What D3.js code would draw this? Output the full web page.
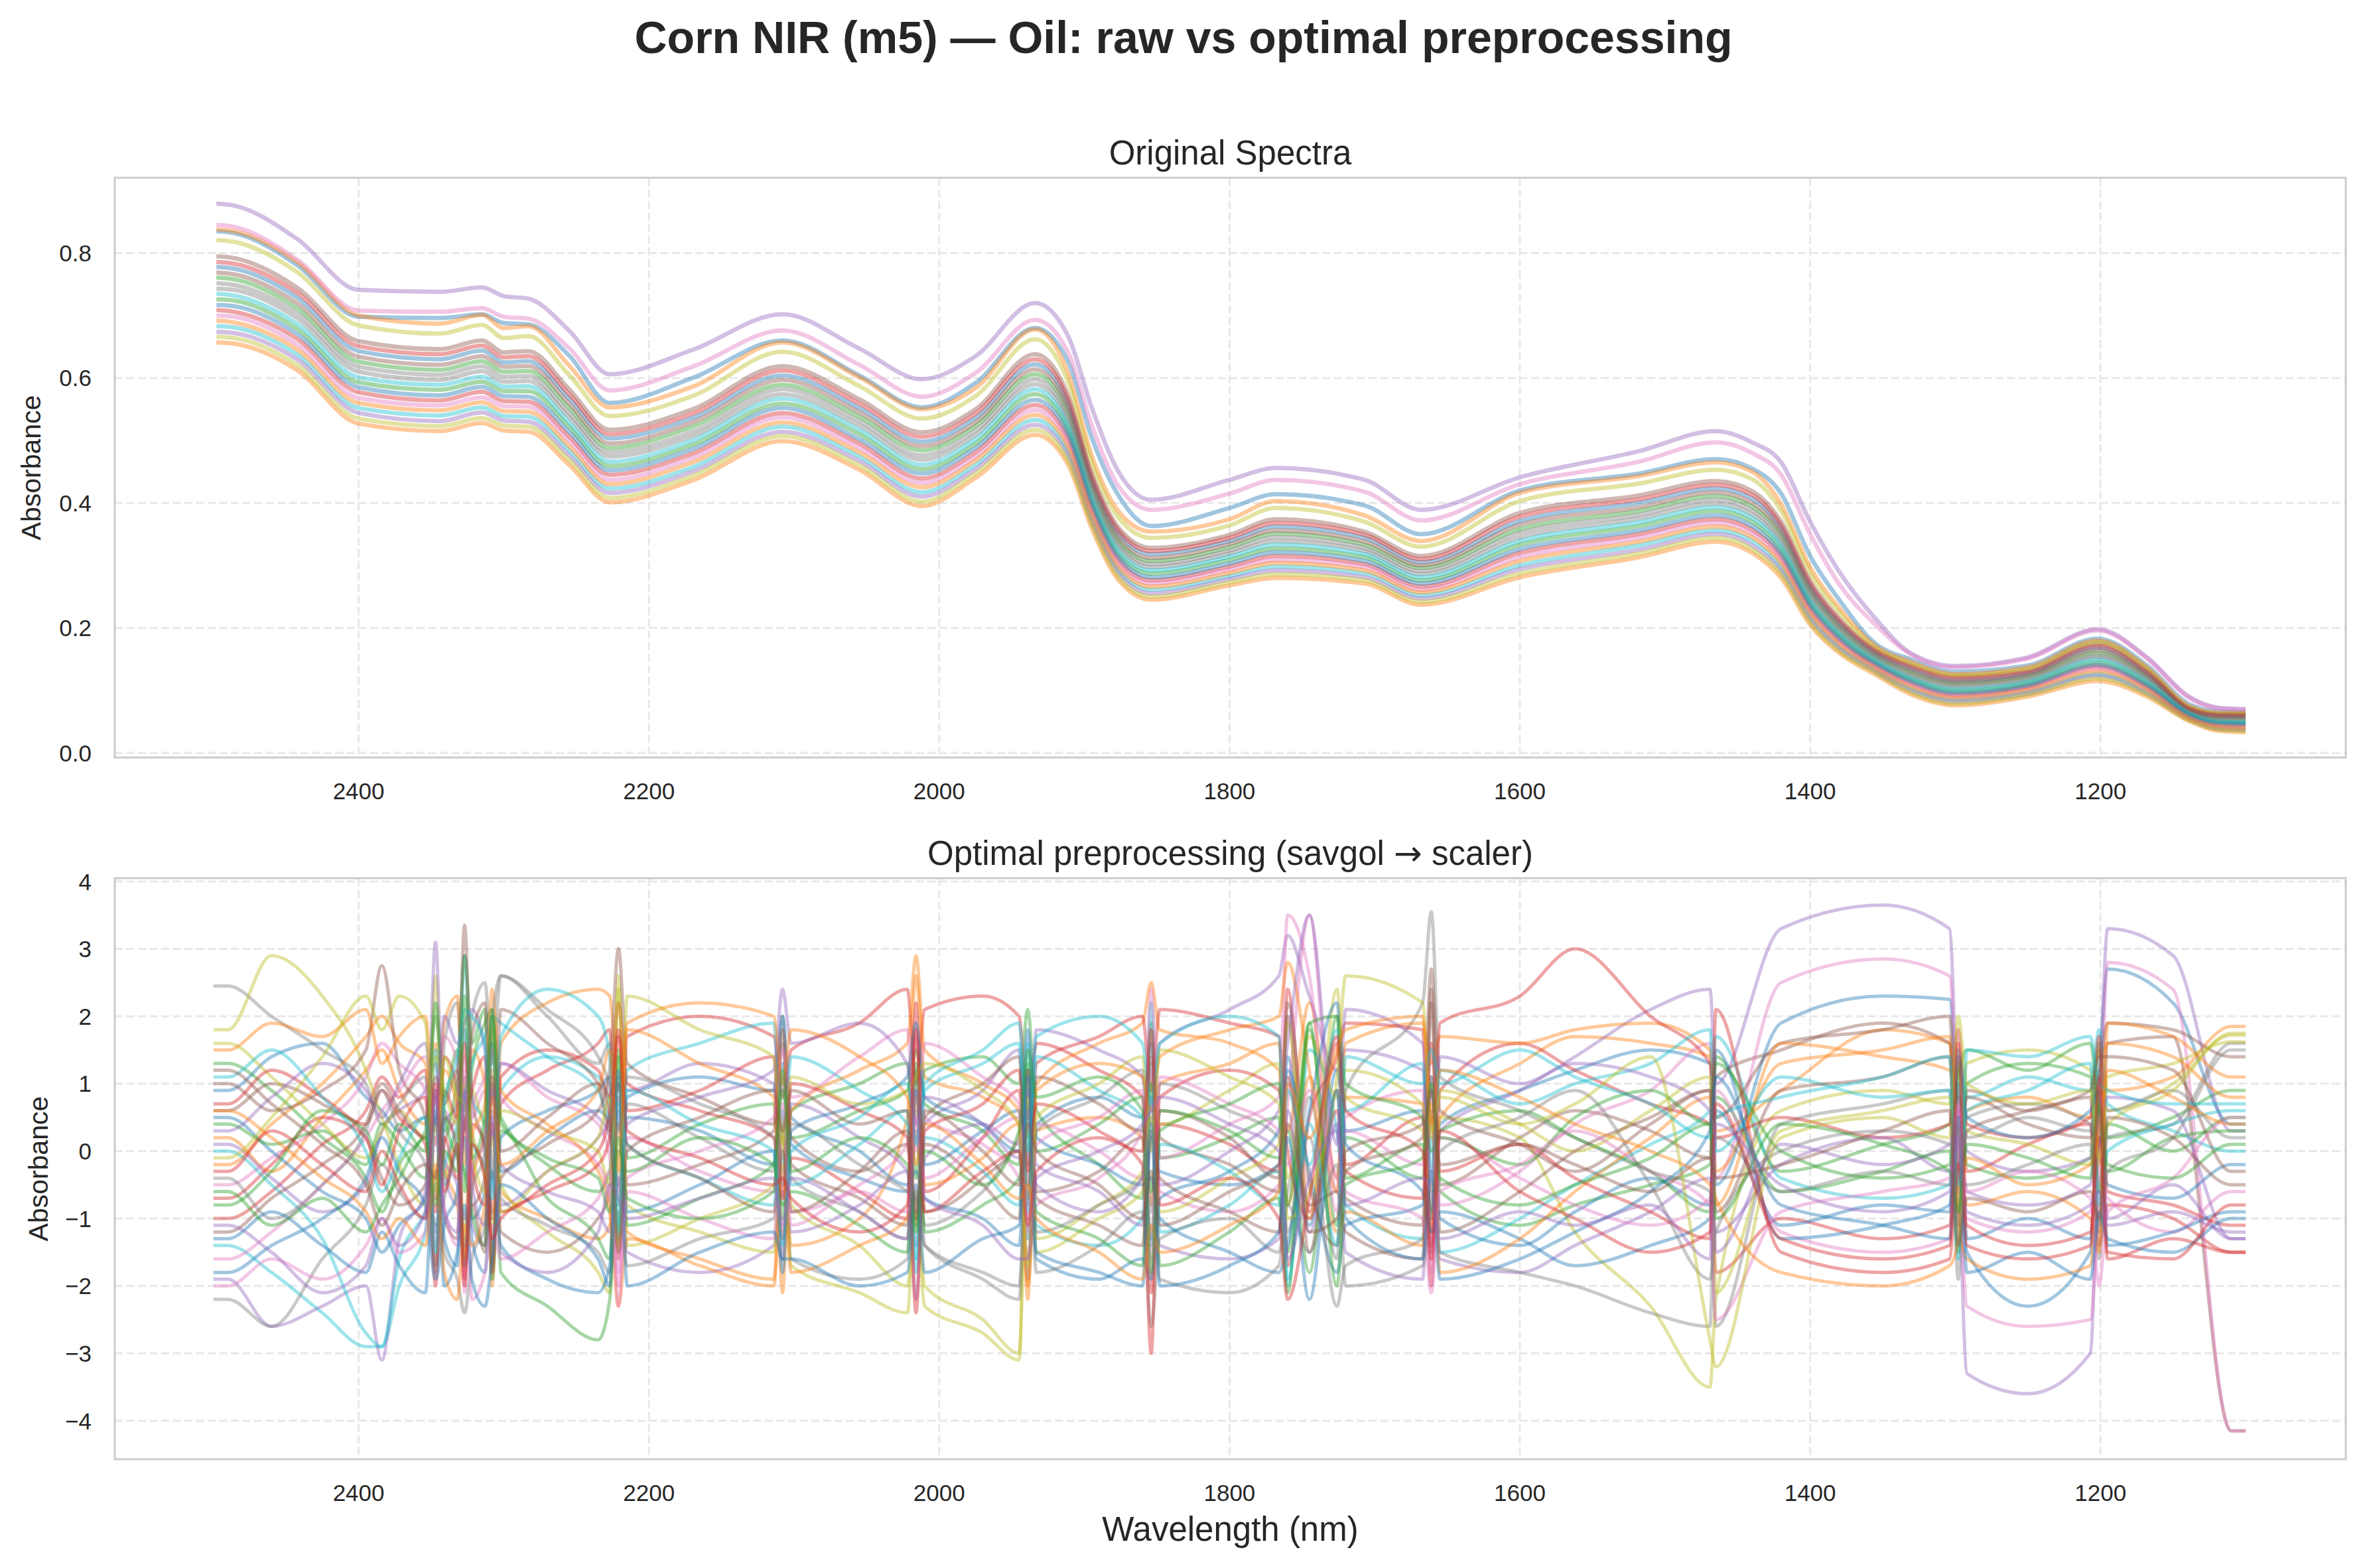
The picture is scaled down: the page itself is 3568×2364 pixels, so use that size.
<!DOCTYPE html>
<html>
<head>
<meta charset="utf-8">
<script src="https://cdn.jsdelivr.net/npm/d3@7"></script>
<style>
  body { margin: 0; background: #fff; }
  svg text { font-family: "Liberation Sans", Arial, sans-serif; fill: #262626; }
</style>
</head>
<body>
<div id="fig"></div>
<script>
// ---- raw spectra: one row per wavelength, one column per sample (absorbance)
var rawWavelengths = [2498, 2486, 2442, 2400, 2344, 2315, 2300, 2283, 2255, 2227, 2170, 2108, 2055, 2012, 1975, 1934, 1911, 1895, 1876, 1854,
  1800, 1768, 1707, 1668, 1600, 1518, 1465, 1440, 1420, 1400, 1380, 1355, 1331, 1300, 1250, 1202, 1168, 1139, 1118, 1100];

var rawByWavelength = [
  [.835,.838,.761,.709,.879,.795,.845,.743,.821,.683,.778,.657,.726,.786,.674,.769,.700,.752,.666,.735,.717,.692],
  [.832,.835,.758,.706,.876,.792,.842,.741,.818,.681,.775,.655,.724,.783,.672,.766,.698,.749,.664,.732,.715,.689],
  [.780,.785,.711,.662,.822,.744,.789,.695,.769,.637,.728,.612,.678,.736,.629,.719,.653,.703,.620,.686,.670,.645],
  [.698,.700,.626,.577,.741,.659,.708,.610,.684,.552,.643,.527,.593,.651,.544,.634,.568,.618,.535,.601,.585,.560],
  [.696,.687,.613,.564,.738,.646,.706,.597,.671,.540,.630,.515,.581,.638,.531,.621,.556,.605,.523,.589,.572,.548],
  [.702,.701,.627,.578,.745,.660,.712,.611,.685,.553,.644,.528,.594,.652,.545,.635,.569,.619,.536,.602,.586,.561],
  [.688,.680,.610,.563,.731,.641,.698,.594,.664,.539,.625,.516,.579,.633,.532,.618,.555,.602,.524,.586,.571,.547],
  [.686,.683,.611,.562,.727,.643,.695,.595,.667,.538,.627,.514,.579,.635,.530,.619,.554,.603,.522,.587,.570,.546],
  [.636,.620,.552,.506,.676,.582,.648,.537,.605,.484,.567,.461,.522,.574,.476,.559,.499,.544,.469,.529,.514,.491],
  [.560,.553,.488,.445,.606,.517,.580,.474,.539,.423,.503,.401,.459,.510,.416,.495,.437,.481,.408,.466,.452,.430],
  [.600,.586,.522,.479,.645,.550,.618,.507,.571,.457,.536,.436,.493,.543,.450,.529,.472,.514,.443,.500,.486,.465],
  [.660,.657,.589,.544,.702,.619,.676,.574,.642,.522,.604,.499,.559,.612,.514,.597,.537,.582,.507,.567,.552,.529],
  [.604,.601,.538,.495,.647,.566,.621,.524,.587,.474,.552,.453,.510,.559,.467,.545,.488,.531,.460,.517,.502,.481],
  [.553,.550,.484,.439,.598,.513,.570,.469,.535,.417,.498,.395,.454,.506,.410,.491,.432,.476,.402,.461,.447,.425],
  [.592,.584,.523,.481,.635,.550,.608,.509,.571,.461,.536,.440,.495,.543,.454,.529,.474,.516,.447,.502,.488,.468],
  [.680,.678,.606,.557,.720,.638,.693,.590,.662,.533,.622,.509,.574,.630,.525,.614,.549,.598,.517,.582,.565,.541],
  [.625,.606,.543,.502,.666,.571,.640,.529,.592,.481,.557,.460,.516,.564,.474,.550,.495,.536,.467,.522,.509,.488],
  [.505,.476,.426,.393,.553,.448,.525,.415,.465,.377,.437,.360,.404,.443,.371,.432,.388,.421,.366,.410,.399,.382],
  [.410,.385,.338,.307,.448,.359,.425,.328,.375,.291,.349,.275,.317,.354,.286,.343,.301,.333,.280,.322,.312,.296],
  [.363,.354,.307,.276,.405,.328,.389,.297,.344,.261,.318,.245,.287,.323,.255,.312,.271,.302,.250,.292,.281,.266],
  [.392,.374,.329,.298,.437,.349,.415,.319,.364,.283,.339,.268,.309,.344,.278,.334,.293,.324,.273,.314,.303,.288],
  [.414,.403,.351,.315,.456,.374,.437,.339,.392,.298,.362,.280,.327,.368,.292,.356,.309,.345,.286,.333,.321,.304],
  [.396,.380,.333,.302,.437,.354,.418,.323,.370,.287,.344,.271,.313,.349,.281,.338,.297,.328,.276,.318,.307,.292],
  [.350,.339,.296,.266,.389,.315,.372,.286,.330,.252,.305,.237,.276,.310,.247,.300,.261,.291,.242,.281,.271,.257],
  [.420,.416,.358,.320,.441,.384,.430,.345,.403,.300,.371,.281,.333,.378,.294,.365,.313,.352,.287,.339,.326,.307],
  [.447,.443,.387,.350,.483,.412,.466,.375,.431,.332,.400,.313,.363,.406,.325,.393,.344,.381,.319,.369,.356,.338],
  [.470,.465,.411,.374,.515,.435,.497,.399,.453,.356,.423,.338,.387,.429,.350,.417,.368,.405,.344,.393,.380,.362],
  [.455,.450,.394,.357,.497,.419,.480,.382,.438,.339,.407,.320,.370,.413,.332,.400,.351,.388,.326,.376,.363,.345],
  [.415,.398,.348,.314,.465,.370,.445,.336,.387,.297,.359,.280,.325,.364,.291,.353,.308,.342,.286,.331,.319,.303],
  [.315,.297,.258,.231,.370,.275,.350,.249,.288,.218,.266,.205,.240,.271,.214,.262,.227,.253,.209,.244,.236,.223],
  [.245,.232,.201,.181,.290,.215,.270,.194,.225,.170,.208,.160,.188,.212,.167,.205,.177,.198,.163,.191,.184,.174],
  [.175,.171,.155,.140,.215,.165,.205,.150,.168,.133,.160,.125,.145,.163,.130,.158,.138,.153,.128,.148,.143,.135],
  [.150,.146,.129,.112,.160,.141,.158,.123,.143,.103,.135,.094,.118,.138,.100,.132,.109,.126,.097,.120,.115,.106],
  [.130,.126,.111,.093,.139,.122,.137,.105,.124,.085,.116,.076,.099,.119,.082,.113,.090,.108,.079,.102,.096,.088],
  [.140,.137,.122,.106,.153,.132,.151,.116,.134,.098,.127,.090,.111,.129,.095,.124,.103,.119,.093,.114,.108,.101],
  [.183,.180,.160,.138,.198,.175,.196,.153,.177,.126,.168,.115,.145,.171,.123,.164,.134,.156,.119,.149,.141,.130],
  [.140,.137,.122,.106,.153,.132,.151,.116,.134,.098,.127,.090,.111,.129,.095,.124,.103,.119,.093,.114,.108,.101],
  [.078,.075,.067,.059,.090,.072,.088,.064,.073,.055,.069,.051,.062,.071,.054,.068,.058,.065,.052,.063,.060,.056],
  [.066,.064,.055,.045,.072,.062,.071,.052,.063,.040,.059,.035,.049,.060,.038,.057,.043,.054,.037,.050,.047,.042],
  [.065,.064,.055,.044,.070,.062,.069,.051,.063,.038,.058,.033,.048,.060,.037,.057,.042,.053,.035,.049,.046,.040]
];

// ---- preprocessed (savgol -> scaler): one row per sample, one value per wavelength
var snvWavelengths = [2500, 2490, 2460, 2425, 2395, 2384, 2372, 2354, 2347, 2341, 2332, 2327, 2322, 2313, 2308, 2302, 2270, 2235, 2227, 2221,
  2215, 2165, 2114, 2108, 2102, 2055, 2022, 2016, 2010, 1970, 1945, 1939, 1933, 1890, 1860, 1854, 1848, 1800, 1766, 1760,
  1745, 1726, 1720, 1667, 1661, 1655, 1600, 1562, 1510, 1469, 1465, 1420, 1350, 1304, 1298, 1292, 1250, 1207, 1201, 1195,
  1150, 1110, 1100];

var snvBySample = [
  [0.9,0.9,1.4,1.6,0.8,0.6,0.3,0.5,-1.2,0.4,0.7,1.8,0.2,-0.3,-1.4,0.2,0.6,0.9,1.1,-0.8,0.5,0.3,-0.2,1.3,0.1,-0.4,-0.6,0.9,-0.2,0.3,0.6,-1.3,0.4,0.8,0.5,1.6,-0.3,-0.5,-0.2,1.4,-1.1,1.2,0.3,0.6,-1.0,0.4,0.9,1.2,1.5,1.3,-0.5,1.9,2.3,2.25,0.2,-1.5,-2.3,-1.5,1.0,2.7,2.2,0.4,0.4],
  [0.2,0.2,-0.3,0.5,1.2,1.5,0.9,0.4,1.6,-0.2,-0.8,-1.5,-0.5,0.3,1.2,-0.6,-1.0,-1.3,-1.1,0.4,-1.2,-1.6,-1.9,0.2,-1.4,-1.0,0.5,2.6,1.1,0.8,0.4,-2.0,0.3,0.5,0.2,-0.8,1.0,1.3,1.6,0.3,2.2,-0.4,0.8,0.7,-1.2,0.5,1.3,1.7,1.6,1.4,0.3,0.9,1.8,1.6,-0.9,0.6,0.8,0.5,1.5,0.9,1.1,1.85,1.85],
  [1.3,1.3,0.9,0.2,-0.4,-0.9,-0.2,0.3,2.0,0.8,1.5,-0.6,1.2,1.9,2.1,0.5,-0.2,-0.6,-0.3,1.5,-0.1,0.4,0.7,-1.0,0.6,1.0,1.3,-0.4,1.2,1.4,1.0,2.1,0.6,-0.2,-0.7,1.9,-0.1,0.2,0.5,-1.5,1.8,-1.1,0.2,-0.4,1.1,-0.6,-1.1,-0.8,-0.5,-0.2,1.4,-0.3,0.1,0.4,1.2,-0.2,-0.4,-0.1,1.6,0.2,0.5,0.9,0.9],
  [-1.0,-1.0,-0.6,0.1,0.6,1.1,0.8,1.2,-0.7,1.4,0.9,-1.9,0.4,0.1,-0.9,0.7,1.2,1.6,1.8,-1.6,1.7,2.0,1.7,0.8,1.5,1.9,2.4,1.0,2.1,2.3,2.0,0.5,1.6,1.2,0.8,-2.1,0.4,0.1,-0.3,2.4,-0.9,1.6,-0.2,0.5,-2.0,0.9,1.6,1.2,0.7,0.4,-1.8,-1.0,-1.3,-1.1,0.8,-0.3,0.1,0.4,-1.4,-0.8,-1.0,-1.5,-1.5],
  [0.1,0.1,-0.4,-0.9,-0.5,0.3,0.6,0.9,1.3,-0.3,-0.8,0.5,-1.1,-1.4,0.6,-0.8,-0.3,0.2,0.5,1.1,0.9,1.3,1.0,-1.6,0.7,0.2,-0.3,-1.4,0.4,0.9,1.5,-0.2,1.8,1.5,1.1,0.4,1.6,2.1,2.6,3.2,2.3,1.2,1.5,1.2,-1.5,0.3,0.9,1.4,2.1,2.4,1.0,3.3,3.65,3.3,0.0,-3.3,-3.6,-3.0,0.5,3.3,2.9,0.3,0.3],
  [0.6,0.6,1.0,0.7,0.2,-0.4,-0.8,-0.5,0.9,-1.0,-1.3,1.1,-0.8,-0.4,1.0,-1.2,-1.5,-1.0,-0.6,0.8,-0.5,-0.2,0.3,1.6,-0.2,-0.7,-1.1,0.3,-0.9,-0.4,0.2,1.2,-0.6,-0.3,0.2,-1.3,0.6,0.2,-0.4,2.0,-1.5,0.9,-0.7,-1.1,2.4,-0.5,0.2,0.6,0.3,-0.1,1.1,1.5,1.9,1.6,-0.6,0.9,0.6,0.8,-1.2,1.6,1.7,-4.15,-4.15],
  [-0.5,-0.5,-0.1,0.4,1.1,1.6,1.3,0.9,-1.4,0.6,0.2,1.4,0.5,0.9,-0.6,1.3,0.8,0.4,-0.1,-1.8,0.2,-0.3,-0.6,1.1,-0.9,-0.5,0.1,1.7,0.5,0.1,-0.4,-1.6,-0.8,-0.4,0.3,1.2,-0.6,-0.9,-0.5,0.7,3.5,-0.6,0.3,-0.2,0.9,-0.8,-0.3,0.4,0.9,1.6,-0.4,2.5,2.85,2.6,0.1,-2.3,-2.6,-2.5,-0.3,2.8,2.4,-4.15,-4.15],
  [2.45,2.45,2.0,1.5,1.0,0.4,0.7,1.1,-1.8,1.6,2.2,0.6,2.0,2.5,1.3,2.6,2.1,1.4,0.9,-0.5,0.7,0.2,-0.3,2.0,-0.4,-0.9,-1.3,0.6,-1.1,-0.6,0.0,-1.9,0.3,0.8,1.2,-0.9,1.0,0.6,0.2,-1.2,0.8,-1.6,0.9,2.2,3.55,1.1,0.6,0.2,-0.3,-0.6,-2.6,0.4,0.7,0.9,-1.9,0.5,0.7,0.4,-1.6,0.2,0.4,1.6,1.6],
  [1.8,1.8,2.9,2.3,1.2,0.5,-0.2,-0.8,2.6,-0.4,0.3,-1.3,0.9,0.4,1.8,-0.5,-1.2,-1.8,-2.1,2.6,-1.4,-1.0,-0.5,0.3,-0.8,-1.4,-2.0,-0.9,-2.3,-2.7,-3.1,1.0,-1.5,-1.0,-0.6,0.5,-0.9,-0.4,0.1,1.9,-1.0,2.4,0.8,0.3,-0.6,0.5,0.2,-1.2,-2.3,-3.5,-2.2,0.6,0.9,0.7,1.3,0.3,0.1,-0.2,0.9,0.6,1.0,1.72,1.72],
  [-1.4,-1.4,-1.8,-2.4,-2.9,-2.9,-2.0,-1.2,1.5,-0.5,0.2,2.9,0.8,0.4,-1.7,0.9,1.4,1.1,0.7,-1.1,1.2,1.6,1.9,-0.3,1.4,0.9,0.4,-1.8,0.2,-0.3,-0.8,1.6,-1.1,-1.4,-1.0,2.2,-1.2,-0.8,-0.3,-2.0,1.5,0.3,-0.8,-1.3,0.2,-1.5,-1.0,-0.5,0.1,0.6,1.7,-0.4,-0.7,-0.5,1.5,0.8,1.1,0.9,1.8,0.7,0.3,0.0,0.0],
  [0.5,0.5,0.0,-0.6,-1.0,-1.5,-1.1,-0.7,0.8,-1.3,-1.7,0.9,-1.0,-0.6,1.6,-0.3,0.2,0.6,0.4,-1.3,0.8,1.1,0.9,2.0,0.5,0.0,-0.5,-0.3,-0.7,-1.0,-1.4,0.7,-1.6,-1.9,-1.6,-1.9,-0.7,-0.3,0.3,1.2,-0.3,-1.8,-1.1,-0.8,0.6,-1.0,-1.4,-0.9,-0.4,-0.8,0.6,-1.1,-0.8,-0.9,1.0,-1.3,-1.0,-1.3,0.2,-0.5,-0.7,-0.2,-0.2],
  [-0.2,-0.2,0.4,1.0,1.7,2.0,1.6,1.3,0.1,1.9,2.3,-0.2,1.5,1.0,-2.0,1.6,2.2,2.4,2.3,0.9,1.8,1.3,0.8,-2.1,0.6,1.2,1.6,2.9,1.5,1.0,0.6,-0.7,1.0,1.6,1.9,2.5,1.8,1.6,1.2,-0.8,1.1,-0.6,1.6,1.9,1.3,1.7,1.6,1.8,1.9,1.5,-0.3,1.3,1.5,1.7,-1.0,-1.6,-1.9,-1.7,0.8,1.6,1.4,0.8,0.8],
  [0.4,0.4,0.1,0.3,-0.2,0.4,0.1,-0.4,0.5,0.3,1.1,2.9,1.6,2.1,-1.9,0.3,-0.7,-1.3,-1.6,1.4,-1.1,-0.7,-0.2,0.9,0.2,0.6,0.9,1.5,0.7,0.3,-0.2,1.3,0.0,0.4,0.8,-0.6,0.6,0.3,-0.1,0.3,-1.8,2.0,-0.4,0.1,-0.9,0.3,0.6,0.2,-0.3,-0.9,0.8,-0.6,-0.3,0.0,-1.5,1.0,1.3,1.1,-0.6,0.4,0.0,0.5,0.5],
  [-0.7,-0.7,-0.2,0.5,0.2,-0.5,0.3,0.8,-2.0,0.9,0.5,1.6,-0.2,-0.8,0.4,-0.9,-0.5,0.0,0.6,2.2,1.0,0.6,0.2,-1.3,-0.1,-0.6,-1.0,2.2,-0.6,0.2,0.9,-0.8,1.3,1.7,2.0,0.9,2.1,1.9,1.7,-1.7,0.5,1.4,1.9,1.8,-1.4,1.9,2.3,3.0,2.0,1.3,0.2,0.5,0.2,0.4,1.8,0.4,0.2,0.5,1.7,-0.6,-0.8,-1.1,-1.1],
  [-1.9,-1.9,-2.6,-2.3,-2.0,-3.1,-1.3,-0.6,3.1,-0.1,-0.5,-1.0,-0.3,0.2,0.9,-0.2,-0.6,-0.9,-1.2,-0.4,-1.5,-1.8,-1.4,-0.6,-1.2,-0.8,-0.3,-2.2,-0.1,0.4,0.1,0.9,-0.2,-0.6,-1.1,0.2,-1.4,-1.6,-1.3,0.6,-1.2,0.4,-1.5,-1.9,1.1,-1.6,-1.8,-1.4,-0.9,-0.4,-1.2,-0.2,0.2,-0.3,0.4,-0.6,-0.8,-0.5,0.6,-1.0,-0.5,-1.3,-1.3],
  [1.0,1.0,0.6,0.9,1.5,2.75,1.2,0.5,-1.7,0.1,0.6,3.35,0.8,0.0,-1.0,-0.4,0.1,0.6,1.2,3.0,1.3,0.8,0.4,1.8,0.2,-0.3,0.1,-1.1,0.5,1.0,1.4,-0.5,1.1,0.7,0.3,1.4,0.2,-0.2,-0.6,2.2,-0.5,-1.4,0.0,0.4,2.7,0.6,0.1,-0.3,0.4,0.9,0.5,1.6,1.8,2.0,-0.3,0.8,0.4,0.2,1.1,1.9,1.8,1.4,1.4],
  [-1.6,-1.6,-1.2,-0.5,0.2,0.6,0.9,1.4,0.7,1.7,1.3,-2.1,0.6,1.1,1.5,0.8,0.3,-0.2,-0.7,-2.0,-0.4,0.0,0.5,1.5,0.8,1.4,1.8,0.0,1.6,1.1,0.7,-1.0,0.4,0.0,-0.4,2.4,-0.1,0.4,0.8,3.5,2.6,-0.9,0.5,0.9,-1.8,0.2,-0.4,-0.8,-1.1,-0.7,0.9,-1.2,-1.5,-1.3,0.6,-1.0,-1.2,-0.9,-0.4,-0.7,-1.2,-0.6,-0.6],
  [-2.2,-2.2,-2.6,-1.6,-0.8,-0.2,-0.6,-1.0,-0.3,-1.5,-1.9,-2.4,-1.6,-1.1,0.3,-0.7,-1.1,-1.5,-1.8,-0.9,-1.7,-1.3,-1.0,0.4,-1.6,-1.9,-1.6,1.2,-1.4,-1.8,-2.0,0.1,-1.8,-1.4,-0.9,-2.6,-1.3,-1.0,-1.5,-0.6,0.2,-2.3,-1.7,-1.3,0.5,-1.5,-1.8,-2.0,-2.4,-2.6,0.2,-0.6,-0.3,-0.5,0.9,0.2,0.5,0.3,1.2,0.6,0.9,0.2,0.2],
  [1.6,1.6,1.1,0.4,-0.1,0.3,0.6,0.2,1.4,0.9,0.4,1.0,0.3,-0.4,-1.2,0.6,0.3,0.0,-0.5,2.4,-0.8,-1.2,-1.5,0.5,-1.7,-2.1,-2.4,-0.6,-2.0,-2.5,-3.0,0.8,-1.3,-0.8,-0.3,1.0,0.4,0.9,1.3,-0.4,1.7,0.8,1.2,0.7,0.2,0.9,0.4,0.0,0.6,1.1,-2.1,0.3,0.6,0.8,-0.8,1.3,1.5,1.2,-0.2,1.1,1.3,1.62,1.62],
  [0.0,0.0,-0.5,-1.3,-2.7,-2.9,-1.6,-0.9,-0.5,-0.2,0.4,0.8,1.3,1.7,2.0,1.9,1.4,0.9,0.5,0.7,0.1,-0.4,-0.8,0.6,-0.5,0.1,0.6,-1.6,0.9,1.3,1.6,-0.9,1.4,0.9,0.5,-1.4,0.1,-0.3,-0.8,0.9,-0.2,1.8,0.6,1.3,-0.3,1.2,0.7,1.0,1.3,1.8,0.0,1.1,0.8,0.9,-0.5,0.6,0.9,1.3,-0.8,0.0,0.4,0.6,0.6],
  [-1.8,-1.8,-1.4,-1.0,-0.4,0.2,-0.3,-0.8,-1.9,-1.1,-0.6,0.2,-1.3,-1.8,-0.3,-1.4,-1.9,-2.1,-1.7,0.6,-0.9,-0.5,0.0,-1.8,0.3,0.7,1.1,1.9,0.8,0.4,0.0,1.8,0.2,-0.2,-0.5,-0.4,-1.0,-1.5,-1.8,-1.4,0.6,2.2,0.1,-0.6,-1.2,-0.9,-1.3,-1.7,-1.4,-1.0,1.5,-1.3,-1.1,-0.8,1.4,0.5,0.2,0.6,0.9,-1.4,-1.2,-0.9,-0.9],
  [1.5,1.5,1.9,1.7,2.1,1.3,1.7,2.0,0.3,1.2,0.6,-1.6,0.2,0.7,2.4,0.9,0.4,-0.3,-0.9,-2.3,-1.3,-1.7,-2.0,-0.2,-1.8,-1.4,-1.0,0.8,-0.5,-0.1,0.4,-2.2,0.9,1.3,1.1,0.6,1.4,1.8,2.0,2.8,1.2,-1.2,-0.9,-1.4,0.7,-1.8,-1.3,-0.6,0.2,0.8,-0.8,1.6,1.4,1.2,0.3,-0.8,-0.6,-1.0,-1.5,1.9,1.7,1.1,1.1],
  [-0.8,-0.8,-0.3,0.6,0.3,-0.2,0.4,0.0,2.2,0.6,-0.1,-0.3,-0.9,-1.4,2.1,-1.8,-2.3,-2.8,-2.2,0.0,-0.3,0.2,-0.2,-0.8,-0.6,-1.1,-1.5,1.3,-1.2,-0.8,-0.4,0.3,-0.9,-1.3,-1.7,1.0,-1.7,-1.2,-0.7,-2.1,1.9,2.0,1.0,0.5,0.0,0.2,-0.2,0.5,0.9,0.4,1.3,0.0,-0.4,-0.2,1.1,1.5,1.2,1.6,0.5,-0.3,0.2,0.3,0.3],
  [0.7,0.7,1.2,0.8,0.4,0.9,0.5,0.1,-0.9,0.2,-0.4,0.4,0.9,1.4,-1.8,1.1,1.5,1.2,0.8,1.8,0.6,0.9,1.4,-0.7,1.0,0.6,0.2,-2.4,0.3,0.7,1.2,-0.3,0.7,0.3,-0.2,-3.0,0.8,1.2,0.9,0.0,-1.0,0.6,-0.3,-0.7,1.6,-0.3,0.1,-0.4,-0.9,-1.3,2.1,-1.5,-1.8,-1.6,-0.2,-1.1,-1.4,-1.2,0.2,-1.6,-1.3,-1.5,-1.5],
  [0.3,0.3,0.8,1.3,0.9,0.5,1.0,1.6,0.4,2.0,1.6,1.9,2.1,1.5,0.7,1.3,0.9,0.5,0.2,-0.6,0.4,0.8,1.2,2.4,1.6,1.9,1.3,0.4,0.8,0.4,-0.1,0.6,-0.5,-0.9,-0.4,0.8,-0.5,0.0,0.6,1.6,3.5,0.1,2.1,1.6,-0.5,1.4,1.0,1.3,1.1,0.6,-1.5,0.1,-0.2,0.1,0.6,0.0,-0.3,-0.1,0.4,0.8,0.6,-1.3,-1.3],
  [-1.2,-1.2,-0.7,-0.2,0.4,1.0,0.6,0.2,1.1,0.7,1.2,0.3,1.7,2.2,-0.4,2.1,1.6,1.0,0.3,1.0,0.1,-0.4,-0.9,0.0,-0.9,-0.3,0.3,-1.0,0.1,-0.5,-1.0,1.2,-0.7,-1.1,-1.4,0.3,-0.4,-0.9,-1.2,0.4,-0.8,-0.6,-1.2,-1.6,2.2,-1.2,-0.6,0.0,0.5,0.9,-0.9,0.9,1.1,1.4,-1.1,0.3,0.6,0.9,1.4,1.4,1.2,-0.3,-0.3],
  [-2.0,-2.0,-1.6,-1.9,-1.4,-1.0,-1.5,-1.2,0.2,-0.8,-1.4,1.2,-2.2,-1.8,-1.1,-1.6,-1.2,-0.7,-0.3,-2.3,-0.6,-1.0,-1.3,0.7,-1.1,-0.6,-0.9,0.5,-0.4,0.2,0.5,-1.2,0.1,0.5,0.9,-1.6,1.1,0.7,0.3,-0.2,0.9,-0.4,-0.6,-1.0,-2.1,-0.6,-0.2,0.3,-0.3,-0.8,-2.5,-0.9,-0.6,-0.4,0.7,-0.6,-0.3,-0.7,-2.0,-0.9,-0.4,0.5,0.5],
  [-0.4,-0.4,-1.0,-0.5,0.3,0.9,0.3,-0.2,-1.1,-0.7,0.0,-1.4,-0.6,0.0,1.9,2.6,2.0,1.3,1.6,0.3,1.1,0.7,0.2,-0.5,0.4,-0.2,-0.6,-0.7,-1.4,-1.9,-2.2,0.5,-1.2,-0.8,-0.4,1.3,-1.9,-2.1,-1.7,-0.8,-1.5,-0.2,-2.0,-1.7,-0.8,0.0,0.5,0.9,-0.5,-1.9,-1.2,0.0,0.3,0.1,-0.4,-0.5,-0.2,0.1,-1.1,-0.3,0.2,1.5,1.5],
  [-0.1,-0.1,0.5,1.4,2.3,1.8,2.3,1.9,-0.6,1.4,0.8,0.7,0.0,-0.6,0.2,-0.9,-0.3,0.2,0.8,-1.4,2.3,1.8,1.4,0.1,1.1,0.7,0.9,1.1,1.3,0.9,0.4,-1.7,0.5,1.0,1.4,0.0,1.5,1.1,0.7,-1.0,-0.6,1.1,2.6,2.2,0.3,0.8,0.4,0.7,1.4,-2.8,-3.2,0.2,0.5,0.2,2.0,1.0,0.7,0.9,-0.1,0.4,0.9,1.75,1.75],
  [1.1,1.1,1.5,0.8,0.0,-0.6,-0.1,0.5,-1.5,0.7,1.4,2.1,2.0,1.6,-0.7,1.7,2.4,2.0,1.4,-1.2,0.9,0.4,0.0,-1.4,0.0,0.5,1.0,0.1,1.0,1.5,1.9,0.0,1.7,2.0,1.6,0.7,1.6,2.0,1.7,-1.9,0.4,-1.4,1.4,1.0,1.5,1.0,1.5,1.1,0.7,0.2,0.5,0.8,1.1,1.4,-1.6,1.5,1.4,1.7,1.0,0.9,0.7,0.7,0.7],
  [-1.3,-1.3,-0.9,-1.4,-1.8,-1.2,-1.7,-2.1,0.6,-2.0,-1.5,-0.8,-1.9,-2.3,-1.6,-0.5,-1.0,-1.6,-2.0,1.2,-2.0,-1.5,-1.2,-1.6,-1.6,-2.0,-1.8,-0.5,-1.8,-1.3,-1.1,1.1,-1.5,-1.8,-2.0,0.4,-2.0,-1.7,-1.2,0.2,-2.2,0.9,-1.0,-1.6,-0.3,-1.9,-1.6,-1.2,-0.6,0.3,1.1,-0.8,-1.1,-1.3,0.5,-1.8,-1.5,-1.9,-0.9,-1.3,-1.5,-1.0,-1.0],
  [0.6,0.6,0.2,-0.4,-0.9,-1.3,-1.0,-1.4,-0.2,-1.8,-2.2,-1.1,-1.4,-0.8,0.8,-0.2,0.3,0.9,1.5,-0.3,1.9,2.2,2.0,1.0,1.8,1.4,0.8,-0.2,0.4,-0.2,-0.7,-0.5,-1.0,-1.5,-1.9,-1.1,-1.5,-1.1,-0.6,1.0,0.2,1.5,1.8,2.0,0.4,1.2,0.8,0.4,0.0,-0.5,-0.7,-1.8,-2.0,-1.7,-1.3,-0.1,-0.5,-0.2,0.3,1.2,0.8,0.4,0.4],
  [-0.6,-0.6,-1.1,-0.7,-1.2,-0.8,-0.4,0.2,-0.8,0.0,-0.3,2.3,-0.1,0.5,2.0,0.4,-0.1,-0.4,-0.9,0.2,-0.7,-1.0,-0.6,1.2,-0.3,0.2,-0.2,-1.2,0.0,-0.5,0.3,1.5,0.8,1.1,0.6,-1.8,0.3,0.7,1.0,-0.8,1.9,-2.0,-0.5,-0.1,1.0,-0.4,-0.8,-0.5,-0.1,0.4,-1.0,0.4,0.1,-0.3,-0.9,0.1,-0.1,-0.4,0.7,-0.2,-0.4,0.1,0.1],
  [-0.3,-0.3,0.3,-0.2,-0.6,0.0,-0.5,-1.0,1.0,-0.6,0.1,-2.0,0.1,-0.4,-1.3,-1.0,-0.6,-0.2,0.2,1.7,0.3,-0.1,-0.5,-0.4,-0.7,-1.2,-0.8,1.8,-0.9,-0.3,0.0,-1.1,-0.3,0.2,0.0,1.8,-0.8,-0.4,-1.0,-2.2,-0.7,1.7,0.6,0.0,-1.6,0.3,-0.6,-1.0,-1.5,-1.2,0.7,-1.3,-1.6,-1.4,1.6,-1.4,-1.6,-1.4,1.1,-1.5,-1.6,-0.8,-0.8],
  [-1.1,-1.1,-1.5,-2.1,-1.7,-1.0,-1.4,-0.9,0.9,-0.9,-1.2,0.9,-0.5,-1.1,0.5,-1.5,-1.8,-1.2,-0.5,-0.7,-1.0,-0.7,-0.4,-1.1,-0.4,-0.9,-1.3,0.9,-0.7,-1.1,-1.6,-1.6,-0.4,0.0,0.4,0.6,0.8,0.4,0.0,-1.6,-0.4,0.3,-0.8,-0.4,-0.6,-1.3,-0.9,-1.1,-0.8,-1.6,0.4,-0.5,-0.9,-0.6,0.2,-0.9,-1.1,-0.8,-0.6,-1.1,-0.9,-1.2,-1.2],
  [1.2,1.2,0.7,0.1,-0.5,-1.1,-0.6,-0.2,-0.4,0.5,0.0,-1.7,-0.8,-1.5,1.1,0.0,0.5,1.0,0.5,-1.5,0.0,0.5,0.9,0.3,0.9,0.4,0.6,-0.9,0.6,0.0,-0.5,0.4,0.0,-0.5,-1.0,-0.3,-1.1,-0.6,-0.2,1.1,-1.2,-1.0,-0.3,0.2,0.9,-0.2,0.1,-0.2,-0.6,-0.1,-0.4,-0.2,0.3,0.6,-1.4,-0.7,-0.9,-0.6,-1.0,0.5,0.2,-0.5,-0.5]
];

var wavelengthTicks = [2400, 2200, 2000, 1800, 1600, 1400, 1200];
var rawTicks = [0, 0.2, 0.4, 0.6, 0.8];
var snvTicks = [-4, -3, -2, -1, 0, 1, 2, 3, 4];

// ---- layout
var W = 3568, H = 2364;
var left = 173, right = 3536;

var svg = d3.select("#fig").append("svg")
    .attr("width", W).attr("height", H)
    .attr("viewBox", "0 0 " + W + " " + H);

svg.append("rect").attr("width", W).attr("height", H).attr("fill", "#ffffff");

var colors = d3.schemeCategory10;
var x = d3.scaleLinear().domain([2568, 1031]).range([left, right]);

svg.append("text")
    .attr("x", W / 2).attr("y", 80)
    .attr("text-anchor", "middle")
    .attr("font-size", 68).attr("font-weight", "bold")
    .text("Corn NIR (m5) \u2014 Oil: raw vs optimal preprocessing");

function drawPanel(opt) {
  var y = d3.scaleLinear().domain(opt.yDomain).range([opt.bottom, opt.top]);
  var g = svg.append("g");
  var clipId = "clip" + opt.id;

  g.append("clipPath").attr("id", clipId).append("rect")
      .attr("x", left).attr("y", opt.top)
      .attr("width", right - left).attr("height", opt.bottom - opt.top);

  // grid
  g.selectAll(".gx").data(wavelengthTicks).enter().append("line")
      .attr("x1", d => x(d)).attr("x2", d => x(d))
      .attr("y1", opt.top).attr("y2", opt.bottom)
      .attr("stroke", "#e8e8e8").attr("stroke-width", 3).attr("stroke-dasharray", "12,5.5");
  g.selectAll(".gy").data(opt.yTicks).enter().append("line")
      .attr("x1", left).attr("x2", right)
      .attr("y1", d => y(d)).attr("y2", d => y(d))
      .attr("stroke", "#e8e8e8").attr("stroke-width", 3).attr("stroke-dasharray", "12,5.5");

  // spectra
  var line = d3.line()
      .x(d => x(d[0]))
      .y(d => y(d[1]))
      .curve(d3.curveMonotoneX);

  g.append("g").attr("clip-path", "url(#" + clipId + ")")
    .selectAll("path").data(opt.series).enter().append("path")
      .attr("d", line)
      .attr("fill", "none")
      .attr("stroke", (d, i) => colors[i % 10])
      .attr("stroke-width", opt.lineWidth)
      .attr("stroke-opacity", opt.alpha)
      .attr("stroke-linejoin", "round");

  // frame
  g.append("rect")
      .attr("x", left).attr("y", opt.top)
      .attr("width", right - left).attr("height", opt.bottom - opt.top)
      .attr("fill", "none").attr("stroke", "#cccccc").attr("stroke-width", 3);

  // tick labels
  g.selectAll(".tx").data(wavelengthTicks).enter().append("text")
      .attr("x", d => x(d)).attr("y", opt.bottom + 63)
      .attr("text-anchor", "middle").attr("font-size", 35)
      .text(d => d);
  g.selectAll(".ty").data(opt.yTicks).enter().append("text")
      .attr("x", 138).attr("y", d => y(d)).attr("dy", "0.36em")
      .attr("text-anchor", "end").attr("font-size", 35)
      .text(opt.yFormat);

  // labels
  g.append("text")
      .attr("transform", "translate(" + opt.ylabelX + "," + ((opt.top + opt.bottom) / 2) + ") rotate(-90)")
      .attr("text-anchor", "middle").attr("dy", "0.36em")
      .attr("font-size", 41)
      .text("Absorbance");
  var t = g.append("text")
      .attr("x", (left + right) / 2).attr("y", opt.top - 20)
      .attr("text-anchor", "middle").attr("font-size", 51);
  opt.title.forEach(function(part) {
    var s = t.append("tspan").text(part.text);
    if (part.font) s.style("font-family", part.font);
  });
}

var rawSeries = rawByWavelength[0].map(function(_, j) {
  return rawWavelengths.map(function(w, i) { return [w, rawByWavelength[i][j]]; });
});

var snvSeries = snvBySample.map(function(row) {
  var n = Math.min(row.length, snvWavelengths.length);
  return row.slice(0, n).map(function(v, i) { return [snvWavelengths[i], v]; });
});

drawPanel({
  id: "raw", top: 268, bottom: 1142,
  yDomain: [-0.0074, 0.9205], yTicks: rawTicks, yFormat: d3.format(".1f"),
  series: rawSeries, lineWidth: 6.5, alpha: 0.42,
  title: [{ text: "Original Spectra" }], ylabelX: 46
});

drawPanel({
  id: "snv", top: 1324, bottom: 2200,
  yDomain: [-4.571, 4.049], yTicks: snvTicks, yFormat: d3.format("d"),
  series: snvSeries, lineWidth: 5, alpha: 0.42,
  title: [{ text: "Optimal preprocessing (savgol " }, { text: "\u2192", font: "'DejaVu Sans'" }, { text: " scaler)" }],
  ylabelX: 57
});

svg.append("text")
    .attr("x", (left + right) / 2).attr("y", 2323)
    .attr("text-anchor", "middle").attr("font-size", 51)
    .text("Wavelength (nm)");
</script>
</body>
</html>
